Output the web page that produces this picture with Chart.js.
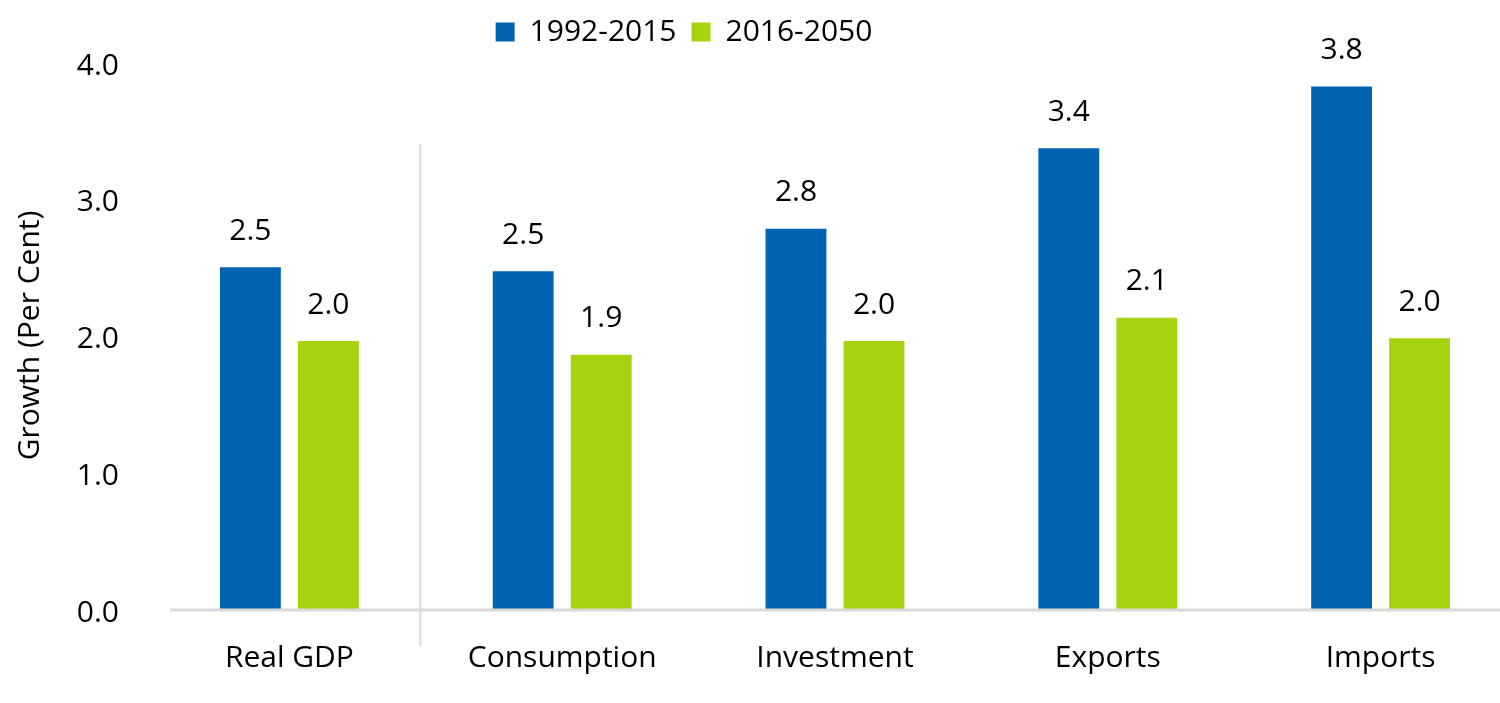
<!DOCTYPE html>
<html>
<head>
<meta charset="utf-8">
<title>Growth by component</title>
<script src="https://cdn.jsdelivr.net/npm/chart.js@4/dist/chart.umd.min.js"></script>
<style>
  html, body { margin: 0; padding: 0; background: #fff; overflow: hidden; }
  #wrap { width: 1517px; height: 703px; }
</style>
</head>
<body>
<div id="wrap"><canvas id="chart" width="1517" height="703"></canvas></div>
<script>
// ─── Data ─────────────────────────────────────────────────────────────────────
const categories  = ['Real GDP', 'Consumption', 'Investment', 'Exports', 'Imports'];
const seriesNames = ['1992-2015', '2016-2050'];
const pastGrowth  = [2.50, 2.47, 2.78, 3.37, 3.82];
const futureGrowth = [1.96, 1.86, 1.96, 2.13, 1.98];
const yTicks      = [0, 1, 2, 3, 4];

const BLUE  = '#0063B1';
const GREEN = '#A6D30F';
const FONT  = "'Open Sans', 'Noto Sans', sans-serif";

// ─── Plugins ──────────────────────────────────────────────────────────────────

// value labels above each bar
const valueLabels = {
  id: 'valueLabels',
  afterDatasetsDraw(chart) {
    const ctx = chart.ctx;
    ctx.save();
    ctx.font = `30px ${FONT}`;
    ctx.fillStyle = '#000';
    ctx.textAlign = 'center';
    ctx.textBaseline = 'middle';
    chart.data.datasets.forEach((ds, di) => {
      chart.getDatasetMeta(di).data.forEach((bar, i) => {
        ctx.fillText(ds.data[i].toFixed(1), bar.x, bar.y - 36);
      });
    });
    ctx.restore();
  }
};

// baseline + separator between Real GDP and the components
const axisLines = {
  id: 'axisLines',
  afterDraw(chart) {
    const { ctx, chartArea, scales: { x, y } } = chart;
    const y0 = y.getPixelForValue(0);
    ctx.save();
    ctx.strokeStyle = '#D9D9D9';
    ctx.lineWidth = 3;
    ctx.beginPath();
    ctx.moveTo(chartArea.left + 17, y0 + 1);
    ctx.lineTo(chartArea.right, y0 + 1);
    ctx.stroke();

    const sx = x.getPixelForValue(0.48);
    ctx.lineWidth = 2;
    ctx.beginPath();
    ctx.moveTo(sx, y.getPixelForValue(3.4));
    ctx.lineTo(sx, y0 + 37);
    ctx.stroke();
    ctx.restore();
  }
};

// keep the legend centred over the left part like the original
const legendShift = {
  id: 'legendShift',
  afterLayout(chart) {
    const lg = chart.legend;
    const h = lg.bottom - lg.top;
    lg.left = 4;
    lg.right = 1364;
    lg.top = 2;
    lg.bottom = 2 + h;
  }
};

// ─── Chart ────────────────────────────────────────────────────────────────────

new Chart(document.getElementById('chart'), {
  type: 'bar',
  data: {
    labels: categories,
    datasets: [
      { label: seriesNames[0], data: pastGrowth,   backgroundColor: BLUE },
      { label: seriesNames[1], data: futureGrowth, backgroundColor: GREEN },
    ]
  },
  options: {
    responsive: false,
    animation: false,
    devicePixelRatio: 1,
    barPercentage: 0.78,
    categoryPercentage: 0.572,
    layout: { padding: { top: 7, left: 0, right: 0, bottom: 0 } },
    plugins: {
      legend: {
        position: 'top',
        labels: {
          boxWidth: 19, boxHeight: 19, padding: 15,
          color: '#000', font: { family: FONT, size: 30 }
        }
      },
      tooltip: { enabled: false }
    },
    scales: {
      x: {
        grid: { display: false, drawTicks: false },
        border: { display: false },
        ticks: { color: '#000', padding: 31, font: { family: FONT, size: 30 } },
        afterFit: s => { s.height = 94; }
      },
      y: {
        min: 0, max: 4,
        afterBuildTicks: s => { s.ticks = yTicks.map(v => ({ value: v })); },
        grid: { display: false, drawTicks: false },
        border: { display: false },
        ticks: {
          color: '#000', padding: 34, labelOffset: 4,
          font: { family: FONT, size: 30 },
          callback: v => v.toFixed(1)
        },
        title: {
          display: true, text: 'Growth (Per Cent)', color: '#000',
          font: { family: FONT, size: 30 }, padding: { top: 12, bottom: 0 }
        },
        afterFit: s => { s.width = 153; }
      }
    }
  },
  plugins: [valueLabels, axisLines, legendShift]
});
</script>
</body>
</html>
